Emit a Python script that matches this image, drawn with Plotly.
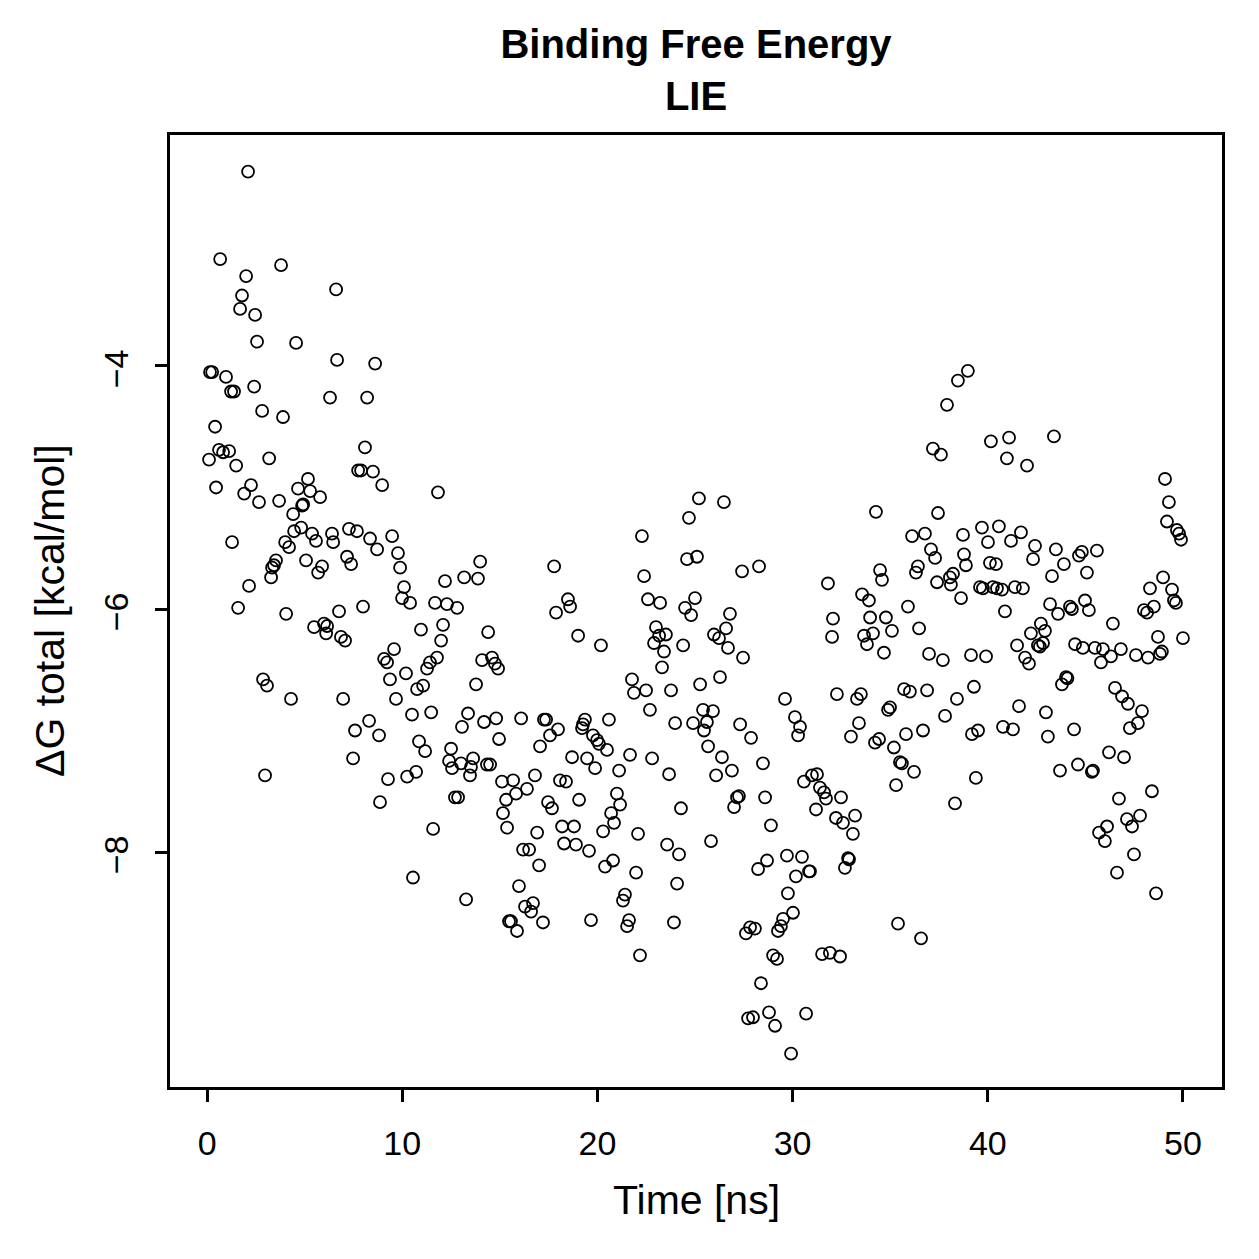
import plotly.graph_objects as go

time_ns = [
    0.10, 0.15, 0.26, 0.41, 0.46, 0.61, 0.67, 0.82, 0.97, 1.13, 1.23, 1.28, 1.38, 1.49, 1.59, 1.69, 1.79, 1.90, 2.00, 2.10,
    2.15, 2.25, 2.41, 2.46, 2.56, 2.66, 2.82, 2.87, 2.97, 3.07, 3.18, 3.28, 3.33, 3.43, 3.53, 3.69, 3.79, 3.89, 4.00, 4.05,
    4.20, 4.30, 4.41, 4.46, 4.56, 4.66, 4.82, 4.87, 4.92, 5.07, 5.17, 5.28, 5.38, 5.48, 5.58, 5.69, 5.79, 5.89, 5.99, 6.10,
    6.15, 6.30, 6.40, 6.46, 6.61, 6.66, 6.76, 6.86, 6.97, 7.07, 7.17, 7.27, 7.38, 7.48, 7.58, 7.68, 7.74, 7.89, 7.99, 8.09,
    8.20, 8.30, 8.35, 8.50, 8.61, 8.71, 8.81, 8.86, 8.97, 9.07, 9.22, 9.27, 9.37, 9.48, 9.58, 9.68, 9.78, 9.89, 9.99, 10.09,
    10.19, 10.25, 10.40, 10.50, 10.55, 10.71, 10.76, 10.86, 10.96, 11.07, 11.17, 11.27, 11.42, 11.48, 11.58, 11.68, 11.78, 11.83, 12.09, 11.99,
    12.19, 12.29, 12.40, 12.50, 12.55, 12.70, 12.81, 12.86, 13.01, 13.06, 13.17, 13.27, 13.37, 13.47, 13.52, 13.63, 13.78, 13.88, 13.99, 14.09,
    14.19, 14.34, 14.40, 14.50, 14.60, 14.75, 14.81, 14.91, 14.96, 15.11, 15.16, 15.32, 15.37, 15.47, 15.57, 15.68, 15.83, 15.88, 15.98, 16.09,
    16.19, 16.29, 16.39, 16.50, 16.60, 16.70, 16.80, 16.91, 17.01, 17.06, 17.21, 17.26, 17.37, 17.47, 17.57, 17.67, 17.78, 17.88, 17.98, 18.08,
    18.19, 18.29, 18.39, 18.49, 18.60, 18.70, 18.80, 18.90, 19.01, 19.06, 19.21, 19.26, 19.36, 19.47, 19.57, 19.67, 19.77, 19.88, 19.98, 20.08,
    20.18, 20.29, 20.39, 20.49, 20.59, 20.70, 20.80, 20.85, 21.00, 21.11, 21.16, 21.31, 21.41, 21.52, 21.62, 21.67, 21.77, 21.87, 21.98, 22.08,
    22.18, 22.28, 22.39, 22.49, 22.59, 22.69, 22.80, 22.90, 23.00, 23.16, 23.21, 23.31, 23.41, 23.51, 23.57, 23.67, 23.77, 23.92, 23.98, 24.08,
    24.18, 24.28, 24.39, 24.49, 24.59, 24.69, 24.80, 24.90, 25.00, 25.20, 25.10, 25.26, 25.41, 25.46, 25.61, 25.67, 25.82, 25.92, 25.97, 26.08,
    26.23, 26.28, 26.38, 26.48, 26.59, 26.69, 26.79, 26.89, 27.00, 27.15, 27.25, 27.31, 27.41, 27.46, 27.61, 27.72, 27.82, 27.87, 27.97, 28.07,
    28.23, 28.28, 28.38, 28.48, 28.59, 28.69, 28.79, 28.89, 29.00, 29.10, 29.20, 29.25, 29.40, 29.51, 29.61, 29.71, 29.76, 29.92, 30.02, 30.12,
    30.17, 30.28, 30.38, 30.48, 30.58, 30.69, 30.84, 30.89, 30.99, 31.20, 31.25, 31.40, 31.51, 31.61, 31.71, 31.81, 31.91, 32.02, 32.07, 32.22,
    32.27, 32.43, 32.48, 32.58, 32.68, 32.84, 32.89, 32.99, 33.09, 33.20, 33.30, 33.40, 33.50, 33.56, 33.66, 33.81, 33.91, 33.97, 34.12, 34.22,
    34.27, 34.43, 34.48, 34.58, 34.68, 34.78, 34.89, 34.99, 35.09, 35.19, 35.30, 35.40, 35.50, 35.60, 35.71, 35.81, 35.91, 36.01, 36.12, 36.22,
    36.32, 36.42, 36.48, 36.58, 36.68, 36.78, 36.89, 36.99, 37.09, 37.19, 37.30, 37.40, 37.45, 37.60, 37.70, 37.81, 37.91, 38.06, 38.11, 38.22,
    38.32, 38.42, 38.47, 38.63, 38.73, 38.78, 38.88, 38.98, 39.14, 39.19, 39.29, 39.39, 39.50, 39.60, 39.70, 39.75, 39.91, 40.01, 40.11, 40.16,
    40.26, 40.42, 40.47, 40.57, 40.73, 40.78, 40.88, 40.98, 41.09, 41.19, 41.29, 41.39, 41.50, 41.60, 41.70, 41.80, 41.91, 42.01, 42.11, 42.21,
    42.32, 42.42, 42.57, 42.67, 42.72, 42.83, 42.93, 42.98, 43.08, 43.19, 43.29, 43.39, 43.49, 43.60, 43.70, 43.80, 43.90, 44.01, 44.08, 44.21,
    44.31, 44.42, 44.47, 44.62, 44.67, 44.82, 44.87, 44.98, 45.08, 45.18, 45.33, 45.39, 45.49, 45.59, 45.70, 45.80, 45.90, 46.00, 46.11, 46.21,
    46.31, 46.41, 46.52, 46.62, 46.72, 46.82, 46.88, 46.98, 47.13, 47.18, 47.28, 47.39, 47.49, 47.59, 47.69, 47.80, 47.90, 48.00, 48.16, 48.21,
    48.31, 48.41, 48.51, 48.62, 48.72, 48.82, 48.92, 48.98, 49.08, 49.18, 49.28, 49.44, 49.54, 49.64, 49.69, 49.80, 49.90, 50.00,
]

dG_total = [
    -4.77, -4.05, -4.05, -4.50, -5.00, -4.69, -3.12, -4.71, -4.09, -4.70, -4.21, -5.45, -4.21, -4.82, -5.99, -3.53, -3.42, -5.05, -3.26, -2.40,
    -5.81, -4.98, -4.17, -3.58, -3.80, -5.12, -4.37, -6.58, -7.37, -6.63, -4.76, -5.74, -5.66, -5.64, -5.60, -5.11, -3.17, -4.42, -5.45, -6.04,
    -5.49, -6.74, -5.22, -5.36, -3.81, -5.01, -5.33, -5.15, -5.14, -5.60, -4.93, -5.03, -5.38, -6.15, -5.44, -5.70, -5.08, -5.65, -6.12, -6.20,
    -6.14, -4.26, -5.38, -5.45, -3.37, -3.95, -6.02, -6.23, -6.74, -6.26, -5.57, -5.34, -5.63, -7.23, -7.00, -5.36, -4.86, -4.86, -5.98, -4.67,
    -4.26, -6.92, -5.42, -4.87, -3.98, -5.51, -7.04, -7.59, -4.98, -6.41, -6.44, -7.40, -6.58, -5.40, -6.33, -6.74, -5.54, -5.66, -5.91, -5.82,
    -6.53, -7.38, -5.95, -6.87, -8.21, -7.34, -6.66, -7.09, -6.17, -6.63, -7.17, -6.49, -6.44, -6.85, -7.81, -5.95, -6.40, -5.04, -6.13, -6.26,
    -5.77, -5.96, -7.25, -7.15, -7.31, -7.55, -5.99, -7.55, -7.27, -6.97, -5.74, -8.39, -6.86, -7.37, -7.30, -7.23, -6.62, -5.75, -5.61, -6.42,
    -6.93, -7.28, -6.19, -7.28, -6.40, -6.45, -6.90, -6.49, -7.07, -7.42, -7.68, -7.57, -7.80, -8.57, -8.57, -7.41, -7.52, -8.65, -8.28, -6.90,
    -7.98, -8.45, -7.48, -7.98, -8.49, -8.42, -7.37, -7.84, -8.11, -7.13, -8.58, -6.91, -6.91, -7.59, -7.04, -7.64, -5.65, -6.03, -6.99, -7.41,
    -7.79, -7.93, -7.42, -5.92, -5.98, -7.22, -7.79, -7.94, -6.22, -7.57, -6.98, -6.95, -6.91, -7.23, -7.99, -8.56, -7.04, -7.31, -7.08, -7.11,
    -6.30, -7.83, -8.12, -7.16, -6.91, -7.68, -8.07, -7.76, -7.52, -7.33, -7.61, -8.40, -8.35, -8.61, -8.56, -7.20, -6.58, -6.69, -8.17, -7.85,
    -8.85, -5.40, -5.73, -6.67, -5.92, -6.83, -7.23, -6.28, -6.15, -6.22, -5.95, -6.48, -6.35, -6.21, -7.94, -7.36, -6.67, -8.58, -6.94, -8.26,
    -8.02, -7.64, -6.30, -5.99, -5.59, -5.25, -6.05, -6.94, -5.91, -5.09, -5.57, -6.62, -6.83, -7.00, -6.93, -7.13, -7.91, -6.84, -6.21, -7.37,
    -6.24, -6.56, -7.22, -5.12, -6.16, -6.32, -6.04, -7.33, -7.63, -7.55, -7.54, -6.95, -5.69, -6.40, -8.67, -9.37, -8.62, -7.06, -9.36, -8.63,
    -8.14, -5.65, -9.08, -7.27, -7.55, -8.07, -9.32, -7.78, -8.85, -9.43, -8.88, -8.65, -8.61, -8.55, -6.74, -8.03, -8.34, -9.66, -8.50, -6.89,
    -8.20, -7.04, -6.97, -8.04, -7.42, -9.33, -8.16, -8.16, -7.37, -7.65, -7.36, -7.47, -8.84, -7.51, -7.56, -5.79, -8.83, -6.23, -6.08, -7.72,
    -6.70, -8.86, -7.55, -7.76, -8.13, -8.05, -8.06, -7.05, -7.85, -7.70, -6.74, -6.94, -6.70, -5.88, -6.22, -6.29, -5.93, -6.07, -6.20, -7.10,
    -5.20, -7.07, -5.68, -5.76, -6.36, -6.07, -6.83, -6.81, -6.18, -7.14, -7.45, -8.59, -7.26, -7.27, -6.66, -7.03, -5.98, -6.68, -5.40, -7.34,
    -5.70, -5.65, -6.16, -8.71, -7.00, -5.38, -6.67, -6.37, -5.51, -4.68, -5.58, -5.78, -5.21, -4.73, -6.42, -6.88, -4.32, -5.74, -5.80, -5.71,
    -7.60, -6.74, -4.12, -5.91, -5.39, -5.55, -5.64, -4.04, -6.38, -7.03, -6.64, -7.39, -7.00, -5.82, -5.33, -5.83, -6.39, -5.45, -5.62, -4.62,
    -5.82, -5.63, -5.83, -5.32, -5.84, -6.97, -6.02, -4.76, -4.59, -5.44, -6.99, -5.82, -6.30, -6.80, -5.37, -5.83, -6.40, -4.82, -6.45, -6.20,
    -5.59, -5.48, -6.30, -6.31, -6.12, -6.28, -6.18, -6.85, -7.05, -5.96, -5.73, -4.58, -5.51, -6.04, -7.33, -6.62, -5.63, -6.56, -6.57, -5.98,
    -6.00, -6.99, -6.29, -7.28, -5.56, -5.53, -6.32, -5.93, -5.70, -6.01, -7.34, -7.33, -6.32, -5.52, -7.84, -6.44, -6.33, -7.91, -7.79, -7.18,
    -6.39, -6.12, -6.65, -8.17, -7.56, -6.33, -6.72, -7.22, -7.73, -6.78, -6.98, -7.79, -8.02, -6.38, -6.94, -7.70, -6.84, -6.01, -6.03, -6.40,
    -5.83, -7.50, -5.98, -8.34, -6.23, -6.37, -6.35, -5.74, -4.93, -5.28, -5.12, -5.84, -5.93, -5.95, -5.35, -5.38, -5.43, -6.24,
]

x_ticks = [0, 10, 20, 30, 40, 50]
y_ticks = [-8, -6, -4]
y_tick_labels = ["\u22128", "\u22126", "\u22124"]

FONT = "Liberation Sans, Arial, Helvetica, sans-serif"

fig = go.Figure()
fig.add_trace(go.Scatter(
    x=time_ns, y=dG_total, mode="markers",
    marker=dict(symbol="circle-open", size=12, color="black", line=dict(width=1.8, color="black")),
    showlegend=False, hoverinfo="skip",
))

axis_common = dict(
    showgrid=False, zeroline=False, showline=True, mirror=True,
    linecolor="black", linewidth=2.5, ticks="outside", ticklen=12,
    tickwidth=2.5, tickcolor="black",
    tickfont=dict(family=FONT, size=34, color="black"),
)

fig.update_xaxes(range=[-1.9, 52.0], tickvals=x_ticks, ticktext=[str(v) for v in x_ticks],
                 ticklabelstandoff=12, **axis_common)
fig.update_yaxes(range=[-9.934, -2.099], tickvals=y_ticks, ticktext=y_tick_labels,
                 tickangle=-90, ticklabelstandoff=14, ticklabelshift=8, **axis_common)

fig.update_layout(
    width=1259, height=1259,
    margin=dict(l=170, r=37, t=135, b=172),
    paper_bgcolor="white", plot_bgcolor="white",
    font=dict(family=FONT, color="black"),
    title=dict(text="<b>Binding Free Energy</b><br><b>LIE</b>", x=0.5, xref="paper",
               y=1 - 58 / 1259, yref="container", yanchor="middle", xanchor="center",
               font=dict(family=FONT, size=40, color="black")),
    annotations=[
        dict(text="Time [ns]", xref="paper", yref="paper", x=0.5, y=(1087 - 1200) / 952,
             xanchor="center", yanchor="middle", showarrow=False,
             font=dict(family=FONT, size=41, color="black")),
        dict(text="ΔG total [kcal/mol]", xref="paper", yref="paper", x=(50 - 170) / 1052, y=0.5,
             xanchor="center", yanchor="middle", textangle=-90, showarrow=False,
             font=dict(family=FONT, size=41, color="black")),
    ],
)

fig.write_html("out.html")
